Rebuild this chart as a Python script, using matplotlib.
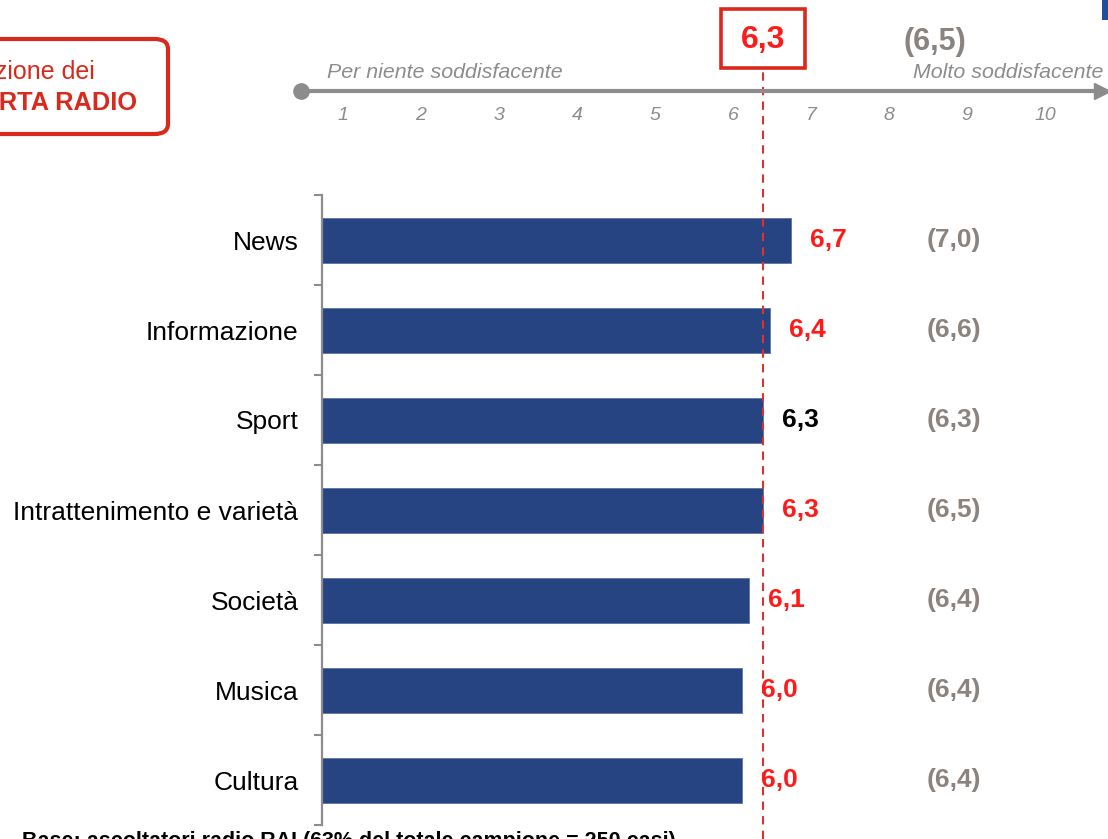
import matplotlib
matplotlib.use("Agg")
import matplotlib.pyplot as plt
import matplotlib.transforms as mtransforms
from matplotlib.patches import Rectangle, FancyBboxPatch

plt.rcParams['font.family'] = ['Liberation Sans', 'DejaVu Sans']

# dati
categorie = ["News", "Informazione", "Sport", "Intrattenimento e varietà",
             "Società", "Musica", "Cultura"]
voti = [6.7, 6.4, 6.3, 6.3, 6.1, 6.0, 6.0]
voti_precedenti = [7.0, 6.6, 6.3, 6.5, 6.4, 6.4, 6.4]
media_totale = 6.3
media_precedente = 6.5
scala = list(range(1, 11))

W, H = 1108, 839
BLU = '#264382'
ROSSO = '#ff1a1a'
ROSSO_BOX = '#d9291c'
GRIGIO = '#8a837e'
GRIGIO_SCALA = '#8c8c8c'


def fx(px):
    return px / W


def fy(px):
    return 1 - px / H


def virgola(v):
    return f"{v:.1f}".replace(".", ",")


fig = plt.figure(figsize=(W / 100, H / 100), dpi=100)

# grafico a barre
ax = fig.add_axes([fx(322), fy(825), fx(W - 322), 630 / H])
pos = list(range(len(categorie)))
ax.barh(pos, voti, height=0.5, color=BLU, edgecolor='#5a73a8', linewidth=0.6, zorder=2)
ax.set_ylim(len(categorie) - 0.5, -0.5)
ax.set_xlim(0, (W - 322) / 70)
ax.set_yticks(pos)
ax.set_yticklabels(categorie, fontsize=19)
ax.set_yticks([p - 0.5 for p in pos] + [len(pos) - 0.5], minor=True)
ax.tick_params(axis='y', which='major', length=0, pad=17)
ax.tick_params(axis='y', which='minor', length=6, width=1.5, color=GRIGIO_SCALA)
ax.set_xticks([])
for s in ['top', 'right', 'bottom']:
    ax.spines[s].set_visible(False)
ax.spines['left'].set_color(GRIGIO_SCALA)
ax.spines['left'].set_linewidth(1.6)

for p, v, vp in zip(pos, voti, voti_precedenti):
    col = 'black' if p == 2 else ROSSO
    ax.annotate(virgola(v), (v, p), xytext=(14, 0), textcoords='offset points',
                ha='left', va='center', fontsize=19, fontweight='bold', color=col,
                zorder=4)
    ax.text((954 - 322) / 70, p, f"({virgola(vp)})", ha='center', va='center',
            fontsize=19, fontweight='bold', color=GRIGIO)

# linea della media
ax.axvline(media_totale, ymin=-14 / 630, ymax=(825 - 68) / 630, color='#e03030',
           linestyle=(0, (4, 3)), linewidth=1.5, clip_on=False, zorder=3)

tr = mtransforms.blended_transform_factory(ax.transData, fig.transFigure)
ax.add_patch(Rectangle((media_totale - 0.6, fy(68)), 1.2, 59 / H, transform=tr,
                       facecolor='white', edgecolor=ROSSO_BOX, linewidth=2.6,
                       clip_on=False, zorder=5))
ax.text(media_totale, fy(40), virgola(media_totale), transform=tr, ha='center',
        va='center', fontsize=23, fontweight='bold', color=ROSSO, zorder=6)
fig.text(fx(935), fy(42), f"({virgola(media_precedente)})", ha='center', va='center',
         fontsize=22, fontweight='bold', color=GRIGIO)

# scala di valutazione
sc = fig.add_axes([fx(301), fy(100), fx(W - 301), 18 / H])
x0 = 1 - 42 / 78
x1 = 1 + (W - 343) / 78
sc.set_xlim(x0, x1)
sc.set_ylim(-1, 1)
sc.axis('off')
sc.plot([x0, x1 - 0.05], [0, 0], color=GRIGIO_SCALA, linewidth=3, solid_capstyle='butt',
        clip_on=False)
sc.plot([x0], [0], 'o', color=GRIGIO_SCALA, markersize=11, clip_on=False)
sc.plot([x1 - 0.08], [0], '>', color=GRIGIO_SCALA, markersize=11, clip_on=False)
trs = mtransforms.blended_transform_factory(sc.transData, fig.transFigure)
for n in scala:
    sc.text(n, fy(115), str(n), transform=trs, ha='center', va='center',
            fontsize=14, style='italic', color=GRIGIO_SCALA)
fig.text(fx(327), fy(72), "Per niente soddisfacente", ha='left', va='center',
         fontsize=15.4, style='italic', color=GRIGIO_SCALA)
fig.text(fx(1103), fy(73), "Molto soddisfacente", ha='right', va='center',
         fontsize=15.4, style='italic', color=GRIGIO_SCALA)

# riquadro titolo
fig.patches.append(FancyBboxPatch((fx(-60), fy(134)), fx(228), 95 / H,
                                  boxstyle='round,pad=0,rounding_size=0.012',
                                  transform=fig.transFigure, facecolor='white',
                                  edgecolor=ROSSO_BOX, linewidth=3))
fig.text(fx(95), fy(72), "Valutazione dei", ha='right', va='center',
         fontsize=18, color=ROSSO_BOX)
fig.text(fx(137), fy(103), "OFFERTA RADIO", ha='right', va='center',
         fontsize=18.3, fontweight='bold', color=ROSSO_BOX)

# marcatore blu in alto a destra
fig.patches.append(Rectangle((fx(1102), fy(20)), fx(10), 20 / H,
                             transform=fig.transFigure, facecolor='#1f4e9a',
                             edgecolor='none'))

# nota di base
fig.text(fx(676), fy(831), "Base: ascoltatori radio RAI (63% del totale campione = 250 casi)",
         ha='right', va='top', fontsize=15.5, fontweight='bold', color='black')

fig.savefig("out.png", dpi=100)
